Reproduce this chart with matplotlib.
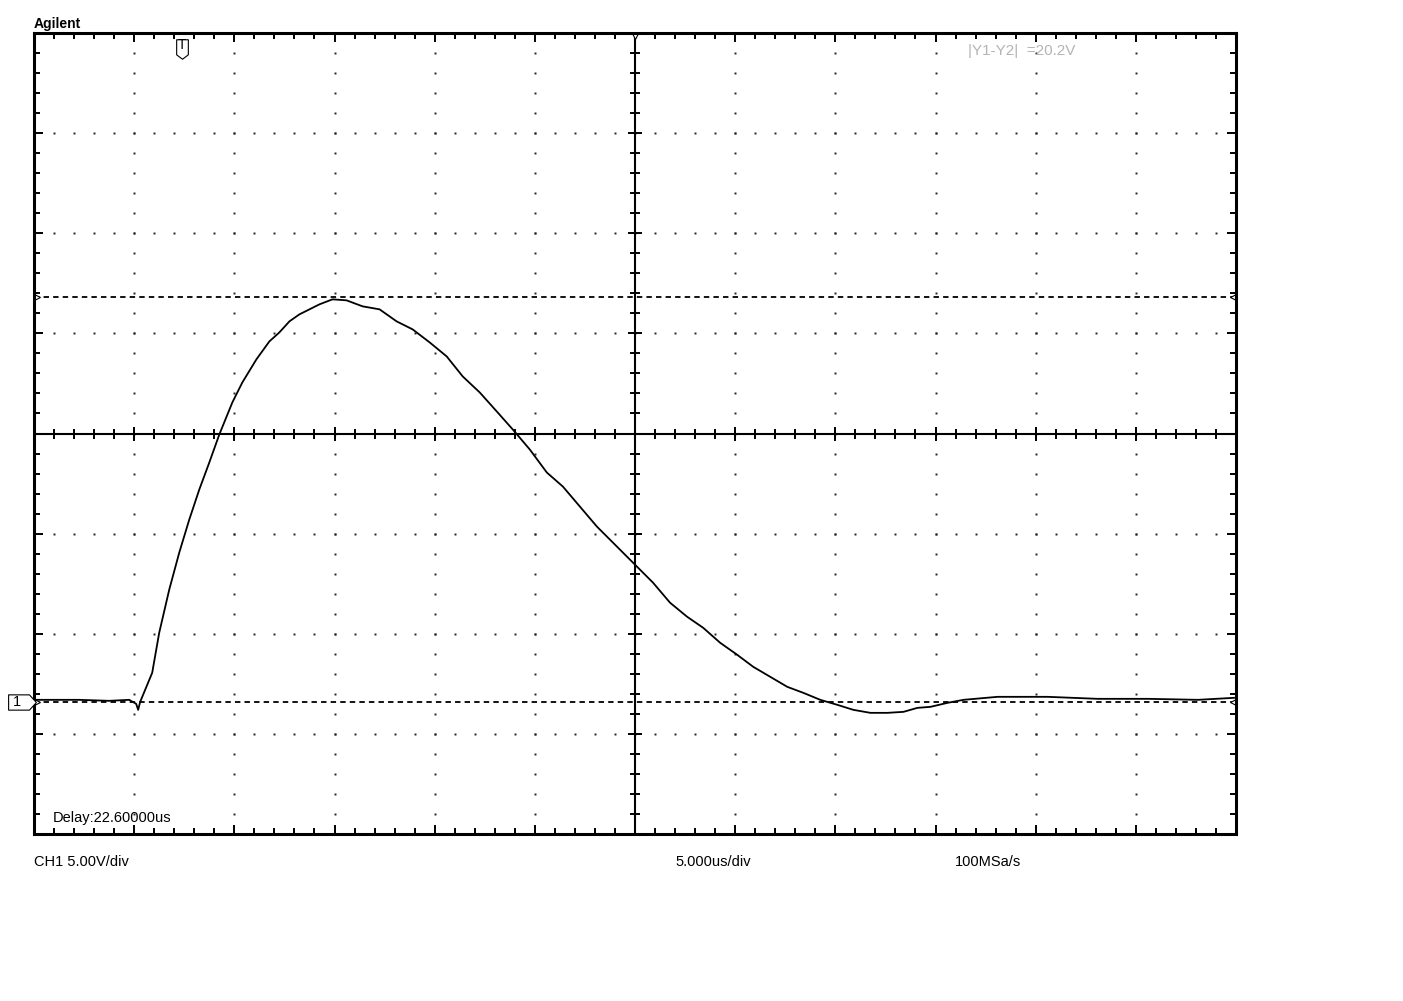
import numpy as np
import matplotlib.pyplot as plt
from matplotlib.path import Path

# CH1 trace: time from screen centre (us), volts above ground
time_us = [-29.95, -27.75, -26.25, -25.25, -24.9, -24.8, -24.7, -24.1, -23.75, -23.25,
           -22.75, -22.25, -21.75, -21.25, -20.75, -20.1, -19.6, -18.9, -18.25, -17.75,
           -17.25, -16.75, -16.25, -15.75, -15.1, -14.4, -13.6, -12.75, -11.9, -11.1,
           -10.25, -9.4, -8.6, -7.75, -6.9, -6.1, -5.25, -4.4, -3.6, -2.75,
           -1.9, -1.1, -0.25, 0.9, 1.75, 2.6, 3.4, 4.25, 5.1, 5.9,
           6.75, 7.6, 8.4, 9.25, 10.1, 10.9, 11.75, 12.6, 13.4, 14.1,
           14.75, 15.6, 16.4, 18.1, 20.6, 23.1, 25.6, 28.1, 29.9]
volts = [0.1, 0.1, 0.05, 0.1, -0.1, -0.4, 0.0, 1.45, 3.45, 5.6,
         7.45, 9.1, 10.6, 11.95, 13.35, 14.95, 15.95, 17.1, 18.0, 18.45,
         19.0, 19.35, 19.6, 19.85, 20.1, 20.05, 19.75, 19.6, 19.0, 18.6,
         17.95, 17.25, 16.25, 15.45, 14.5, 13.6, 12.6, 11.45, 10.75, 9.75,
         8.75, 7.95, 7.1, 5.95, 4.95, 4.25, 3.7, 2.95, 2.35, 1.75,
         1.25, 0.75, 0.45, 0.1, -0.15, -0.4, -0.55, -0.55, -0.5, -0.3,
         -0.25, -0.05, 0.1, 0.25, 0.25, 0.15, 0.15, 0.1, 0.2]

cursor_y1 = 20.2
cursor_y2 = 0.0
trigger_t = -22.6
v_per_div = 5.0
us_per_div = 5.0
centre_v = 13.4          # ground sits 2.68 div below screen centre

ch1_label = "CH1 5.00V/div"
time_label = "5.000us/div"
rate_label = "100MSa/s"
delay_label = "Delay:22.60000us"
brand = "Agilent"

W, H = 1403, 1001
fig = plt.figure(figsize=(W / 100, H / 100), dpi=100)
ax = fig.add_axes([34 / W, (H - 834) / H, 1202 / W, 801 / H])

x0, x1 = -6 * us_per_div, 6 * us_per_div
y0, y1 = centre_v - 4 * v_per_div, centre_v + 4 * v_per_div
ax.set_xlim(x0, x1)
ax.set_ylim(y0, y1)

xmaj = np.linspace(x0, x1, 13)
ymaj = np.linspace(y0, y1, 9)
xmin = np.linspace(x0, x1, 61)
ymin = np.linspace(y0, y1, 41)

ax.set_xticks(xmaj)
ax.set_yticks(ymaj)
ax.set_xticks(xmin, minor=True)
ax.set_yticks(ymin, minor=True)
ax.tick_params(which='both', direction='in', top=True, right=True,
               labelbottom=False, labelleft=False, color='black', width=1.4)
ax.tick_params(which='major', length=6.5)
ax.tick_params(which='minor', length=4.3)
for s in ax.spines.values():
    s.set_linewidth(2.2)

# dotted graticule
for xv in xmaj[1:-1]:
    if abs(xv) < 1e-9:
        continue
    ax.plot(np.full_like(ymin[1:-1], xv), ymin[1:-1], ls='none', marker='s',
            ms=1.4, mew=0, color='#222222')
for yv in ymaj[1:-1]:
    if abs(yv - centre_v) < 1e-9:
        continue
    ax.plot(xmin[1:-1], np.full_like(xmin[1:-1], yv), ls='none', marker='s',
            ms=1.4, mew=0, color='#222222')

# centre crosshair with ticks
ax.axhline(centre_v, color='black', lw=1.5)
ax.axvline(0, color='black', lw=1.5)
ax.plot(xmin[1:-1], np.full_like(xmin[1:-1], centre_v), ls='none', marker='|',
        ms=7, mew=1.4, color='black')
ax.plot(xmaj[1:-1], np.full_like(xmaj[1:-1], centre_v), ls='none', marker='|',
        ms=10, mew=1.4, color='black')
ax.plot(np.zeros_like(ymin[1:-1]), ymin[1:-1], ls='none', marker='_',
        ms=7, mew=1.4, color='black')
ax.plot(np.zeros_like(ymaj[1:-1]), ymaj[1:-1], ls='none', marker='_',
        ms=10, mew=1.4, color='black')

# cursors
for cy in (cursor_y1, cursor_y2):
    ax.plot([x0, x1], [cy, cy], color='black', lw=1.3, ls=(0, (3, 2.3)))
    ax.plot([x0 + 0.15], [cy], marker='>', ms=5, mfc='white', mec='black',
            mew=0.8, clip_on=False)
    ax.plot([x1 - 0.15], [cy], marker='<', ms=5, mfc='white', mec='black',
            mew=0.8, clip_on=False)

# trace
ax.plot(time_us, volts, color='black', lw=1.3, zorder=5)

narrow = ['Liberation Sans Narrow', 'Liberation Sans', 'DejaVu Sans']

# trigger marker: box with a pointed bottom
tag_down = Path([(-0.6, 1), (0.6, 1), (0.6, -0.55), (0, -1), (-0.6, -0.55), (-0.6, 1)],
                [Path.MOVETO, Path.LINETO, Path.LINETO, Path.LINETO, Path.LINETO,
                 Path.CLOSEPOLY])
ax.plot([trigger_t], [y1 - 0.78], marker=tag_down, ms=14, mfc='white',
        mec='black', mew=0.8, zorder=6)
ax.text(trigger_t, y1 - 0.6, 'T', ha='center', va='center', fontsize=10,
        family=narrow, zorder=7)
# centre reference marker
ax.plot([0], [y1 - 0.15], marker='v', ms=5, mfc='white', mec='black', mew=0.8,
        clip_on=False)

# ground marker for channel 1: box with a pointed right side
tag_right = Path([(-1, 0.55), (0.5, 0.55), (1, 0), (0.5, -0.55), (-1, -0.55), (-1, 0.55)],
                 [Path.MOVETO, Path.LINETO, Path.LINETO, Path.LINETO, Path.LINETO,
                  Path.CLOSEPOLY])
yt = ax.get_yaxis_transform()
ax.plot([-0.0102], [cursor_y2], transform=yt, marker=tag_right, ms=20,
        mfc='white', mec='black', mew=0.8, clip_on=False, zorder=6)
ax.text(-0.0145, cursor_y2, '1', transform=yt, ha='center', va='center',
        fontsize=10.5, family=narrow, clip_on=False, zorder=7)

# labels
def ftext(px, py, s, **kw):
    fig.text(px / W, 1 - py / H, s, va='baseline', ha='left', **kw)

ftext(34, 28, brand, fontsize=10, fontweight='bold', family=['Liberation Sans', 'DejaVu Sans'])
ftext(968, 55, f"|Y1-Y2|  ={cursor_y1 - cursor_y2:.1f}V", fontsize=11,
      family=narrow, color='#b4b4b4')
ftext(53, 822, delay_label, fontsize=10.5, family=narrow)
ftext(34, 866, ch1_label, fontsize=10.5, family=narrow)
ftext(675, 866, time_label, fontsize=10.5, family=narrow)
ftext(955, 866, rate_label, fontsize=10.5, family=narrow)

fig.savefig('out.png', dpi=100, facecolor='white')
